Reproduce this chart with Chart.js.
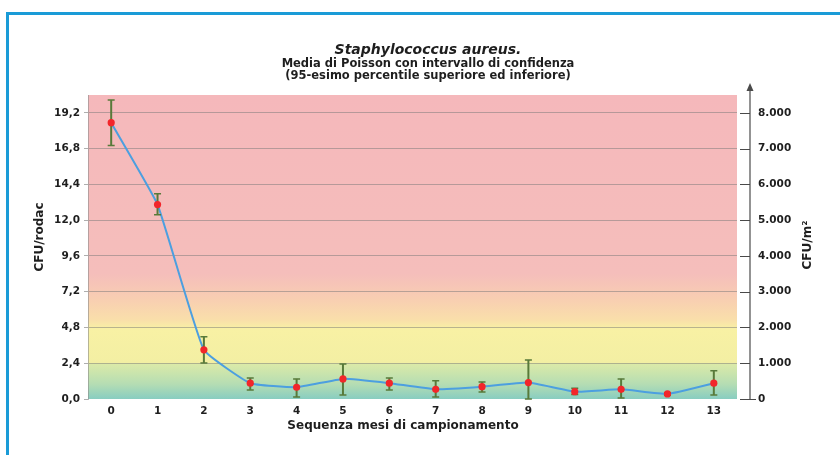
<!DOCTYPE html>
<html>
<head>
<meta charset="utf-8">
<script src="https://cdn.jsdelivr.net/npm/chart.js@4.4.1/dist/chart.umd.min.js"></script>
<style>
  html, body { margin: 0; padding: 0; background: #ffffff; }
  #wrap { position: relative; width: 840px; height: 455px; overflow: hidden; }
  #frame { position: absolute; left: 6px; top: 12px; width: 900px; height: 500px;
           border-left: 3px solid #1a9bd7; border-top: 3px solid #1a9bd7; }
  #c { position: absolute; left: 0; top: 0; }
</style>
</head>
<body>
<div id="wrap">
  <div id="frame"></div>
  <canvas id="c" width="840" height="455"></canvas>
</div>
<script>
// Months of sampling
const months = ['0','1','2','3','4','5','6','7','8','9','10','11','12','13'];
// Poisson mean (CFU/rodac) and its 95% confidence limits
const meanCFU  = [18.54, 13.05, 3.30, 1.06, 0.79, 1.35, 1.06, 0.65, 0.83, 1.10, 0.49, 0.65, 0.34, 1.06];
const upperCFU = [20.06, 13.77, 4.17, 1.41, 1.35, 2.35, 1.41, 1.23, 1.14, 2.62, 0.72, 1.35, 0.42, 1.90];
const lowerCFU = [17.01, 12.37, 2.42, 0.61, 0.13, 0.27, 0.61, 0.13, 0.47, 0.00, 0.30, 0.07, 0.26, 0.27];
// Axis ticks: CFU/rodac on the left, CFU/m² on the right
const leftTicks  = [0, 2.4, 4.8, 7.2, 9.6, 12.0, 14.4, 16.8, 19.2];
const rightTicks = [0, 1000, 2000, 3000, 4000, 5000, 6000, 7000, 8000];

const LEFT_MAX = 20.4;
const RODAC_TO_M2 = 8000 / 19.2;

const FONT = '"DejaVu Sans", Verdana, sans-serif';
const TXT = '#1e1e1e';

// coloured risk bands behind the plot
const bandBackground = {
  id: 'bandBackground',
  beforeDraw(chart) {
    const { ctx, chartArea: a } = chart;
    const g = ctx.createLinearGradient(0, a.bottom, 0, a.top);
    const stop = (v, c) => g.addColorStop(Math.min(1, Math.max(0, v / LEFT_MAX)), c);
    stop(0.0, '#88cdc1');
    stop(1.0, '#b5ddb3');
    stop(2.35, '#dbeaa8');
    stop(2.45, '#f3efa3');
    stop(4.7, '#f8f1a4');
    stop(5.3, '#f9dfaa');
    stop(6.8, '#f8cdb2');
    stop(8.4, '#f5bebb');
    stop(20.4, '#f5b8bb');
    ctx.save();
    ctx.fillStyle = g;
    ctx.fillRect(a.left, a.top, a.right - a.left, a.bottom - a.top);
    ctx.restore();
  }
};

// confidence interval whiskers, drawn just after the line
const errorBars = {
  id: 'errorBars',
  afterDatasetDraw(chart, args) {
    if (args.index !== 1) return;
    const { ctx, scales: { x, y } } = chart;
    ctx.save();
    ctx.strokeStyle = '#587a3a';
    months.forEach((m, i) => {
      const px = x.getPixelForValue(i);
      const yt = y.getPixelForValue(upperCFU[i]);
      const yb = y.getPixelForValue(lowerCFU[i]);
      ctx.lineWidth = 2;
      ctx.beginPath();
      ctx.moveTo(px, yt); ctx.lineTo(px, yb);
      ctx.stroke();
      ctx.lineWidth = 1.5;
      ctx.beginPath();
      ctx.moveTo(px - 3.5, yt); ctx.lineTo(px + 3.5, yt);
      ctx.moveTo(px - 3.5, yb); ctx.lineTo(px + 3.5, yb);
      ctx.stroke();
    });
    ctx.restore();
  }
};

// titles, axis names and the right-hand arrow axis
const decorations = {
  id: 'decorations',
  afterDraw(chart) {
    const { ctx, chartArea: a, scales } = chart;
    ctx.save();
    ctx.fillStyle = TXT;
    ctx.textAlign = 'center';
    ctx.textBaseline = 'middle';
    ctx.font = 'italic bold 14px ' + FONT;
    ctx.fillText('Staphylococcus aureus.', 428, 50);
    ctx.font = 'bold 11.5px ' + FONT;
    ctx.fillText('Media di Poisson con intervallo di confidenza', 428, 64);
    ctx.fillText('(95-esimo percentile superiore ed inferiore)', 428, 76);

    ctx.font = 'bold 12px ' + FONT;
    ctx.fillText('Sequenza mesi di campionamento', 403, 426);

    ctx.save();
    ctx.translate(40, 237);
    ctx.rotate(-Math.PI / 2);
    ctx.fillText('CFU/rodac', 0, 0);
    ctx.restore();

    ctx.save();
    ctx.translate(808, 245);
    ctx.rotate(-Math.PI / 2);
    ctx.fillText('CFU/m²', 0, 0);
    ctx.restore();

    // right axis line with arrow
    const ax = 750;
    const y2 = scales.y2;
    ctx.strokeStyle = '#4a4a4a';
    ctx.fillStyle = '#4a4a4a';
    ctx.lineWidth = 1.2;
    ctx.beginPath();
    ctx.moveTo(ax, a.bottom);
    ctx.lineTo(ax, 88);
    ctx.stroke();
    ctx.beginPath();
    ctx.moveTo(ax, 83);
    ctx.lineTo(ax - 3.5, 91);
    ctx.lineTo(ax + 3.5, 91);
    ctx.closePath();
    ctx.fill();
    ctx.beginPath();
    rightTicks.forEach(v => {
      const py = Math.round(y2.getPixelForValue(v)) + 0.5;
      ctx.moveTo(ax - 10, py);
      ctx.lineTo(ax + (v === 0 ? 6 : 0), py);
    });
    ctx.stroke();
    ctx.restore();
  }
};

const fmtLeft = v => v.toFixed(1).replace('.', ',');
const fmtRight = v => String(Math.round(v)).replace(/\B(?=(\d{3})+(?!\d))/g, '.');

new Chart(document.getElementById('c'), {
  type: 'line',
  data: {
    labels: months,
    datasets: [
      {
        data: meanCFU,
        showLine: false,
        pointRadius: 3.6,
        pointBackgroundColor: '#f2262a',
        pointBorderColor: '#f2262a',
        pointBorderWidth: 0,
        yAxisID: 'y'
      },
      {
        data: meanCFU,
        borderColor: '#4c9fe0',
        borderWidth: 2,
        tension: 0.12,
        pointRadius: 0,
        fill: false,
        yAxisID: 'y'
      }
    ]
  },
  options: {
    responsive: false,
    animation: false,
    devicePixelRatio: 1,
    layout: { padding: { top: 95, left: 0, right: 0, bottom: 0 } },
    plugins: {
      legend: { display: false },
      title: { display: false },
      tooltip: { enabled: false }
    },
    scales: {
      x: {
        offset: true,
        grid: { display: false, drawTicks: false },
        border: { display: false },
        ticks: { color: TXT, font: { family: FONT, size: 10.5, weight: 'bold' }, padding: 6, maxRotation: 0 },
        afterFit(s) { s.height = 56; }
      },
      y: {
        position: 'left',
        min: 0,
        max: LEFT_MAX,
        afterBuildTicks(s) { s.ticks = leftTicks.map(v => ({ value: v })); },
        grid: {
          color: ctx => (ctx.tick && ctx.tick.value === 0) ? 'rgba(0,0,0,0)' : 'rgba(120,120,120,0.5)',
          lineWidth: 1,
          drawTicks: true,
          tickLength: 4,
          tickColor: 'rgba(120,120,120,0.6)'
        },
        border: { display: true, color: 'rgba(140,140,140,0.6)' },
        ticks: { color: TXT, font: { family: FONT, size: 10.5, weight: 'bold' }, padding: 4, callback: v => fmtLeft(v) },
        afterFit(s) { s.width = 88; }
      },
      y2: {
        position: 'right',
        min: 0,
        max: LEFT_MAX * RODAC_TO_M2,
        afterBuildTicks(s) { s.ticks = rightTicks.map(v => ({ value: v })); },
        grid: { display: false, drawTicks: false },
        border: { display: false },
        ticks: { color: TXT, font: { family: FONT, size: 10.5, weight: 'bold' }, padding: 21, callback: v => fmtRight(v) },
        afterFit(s) { s.width = 103; }
      }
    }
  },
  plugins: [bandBackground, errorBars, decorations]
});
</script>
</body>
</html>
